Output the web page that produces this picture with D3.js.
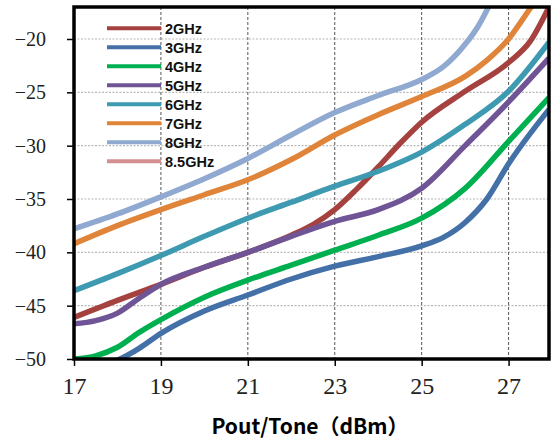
<!DOCTYPE html>
<html>
<head>
<meta charset="utf-8">
<script src="https://cdn.jsdelivr.net/npm/d3@7"></script>
<style>
	body { margin: 0; background: #fff; }
	.tick text { font-family: "Liberation Serif", "Times New Roman", serif; }
</style>
</head>
<body>
<script>
"use strict";

//series names and colours
const names = ["2GHz", "3GHz", "4GHz", "5GHz", "6GHz", "7GHz", "8GHz", "8.5GHz"];
const colors = ["#a5423f", "#4470a8", "#00b050", "#6f5595", "#3e9ab0", "#e0843a", "#8fa9d1", "#d49090"];

//x values (Pout/Tone, dBm) and y values per series
const x2 = [17, 18, 19, 20, 21, 22, 22.5, 23, 23.5, 24, 24.5, 25, 26, 27, 27.5, 27.93];
const y2 = [-46.1, -44.5, -43.0, -41.4, -40.0, -38.4, -37.4, -36.0, -34.1, -32.0, -29.8, -27.8, -24.9, -22.2, -20.2, -17.0];
const x3 = [17, 17.5, 18, 18.5, 19, 20, 21, 22, 23, 24, 25, 25.5, 26, 26.5, 27, 27.93];
const y3 = [-51.5, -50.6, -50.1, -49.0, -47.6, -45.5, -44.0, -42.5, -41.3, -40.4, -39.4, -38.6, -37.2, -35.0, -31.7, -26.6];
const x4 = [17, 17.5, 18, 18.5, 19, 20, 21, 22, 23, 24, 25, 26, 27, 27.93];
const y4 = [-50.0, -49.7, -48.9, -47.5, -46.3, -44.2, -42.6, -41.2, -39.8, -38.4, -36.8, -34.0, -29.6, -25.5];
const x5 = [17, 17.5, 18, 18.5, 19, 20, 21, 22, 23, 24, 25, 26, 27, 27.93];
const y5 = [-46.7, -46.4, -45.7, -44.3, -43.0, -41.4, -40.0, -38.5, -37.1, -36.0, -34.0, -30.0, -25.9, -21.8];
const x6 = [17, 18, 19, 20, 21, 22, 23, 24, 25, 26, 27, 27.93];
const y6 = [-43.6, -42.0, -40.3, -38.5, -36.8, -35.3, -33.8, -32.4, -30.6, -28.0, -24.9, -20.3];
const x7 = [17, 18, 19, 20, 21, 22, 23, 24, 25, 26, 26.5, 27, 27.3, 27.6];
const y7 = [-39.2, -37.5, -36.0, -34.6, -33.2, -31.3, -29.0, -27.1, -25.4, -23.5, -22.0, -20.0, -18.3, -16.5];
const x8 = [17, 18, 19, 20, 21, 22, 23, 24, 25, 25.5, 26, 26.3, 26.6];
const y8 = [-37.8, -36.4, -34.8, -33.1, -31.2, -29.0, -26.9, -25.3, -23.8, -22.6, -20.5, -18.8, -16.5];
const x85 = [];
const y85 = [];

const xTicks = [17, 19, 21, 23, 25, 27];
const yTicks = [-50, -45, -40, -35, -30, -25, -20];
const xTitle = "Pout/Tone（dBm）";

const series = [[x2, y2], [x3, y3], [x4, y4], [x5, y5], [x6, y6], [x7, y7], [x8, y8], [x85, y85]];

//plot box
const W = 552, H = 442;
const pLeft = 74, pTop = 7, pRight = 549, pBottom = 359;

const x = d3.scaleLinear().domain([17, 27.93]).range([pLeft, pRight]);
const y = d3.scaleLinear().domain([-50, -17]).range([pBottom, pTop]);

const svg = d3.select("body").append("svg")
	.attr("width", W)
	.attr("height", H);
svg.append("rect").attr("width", W).attr("height", H).attr("fill", "#fff");

svg.append("clipPath").attr("id", "clip")
	.append("rect")
	.attr("x", pLeft).attr("y", pTop)
	.attr("width", pRight - pLeft).attr("height", pBottom - pTop);

//grid
svg.append("g")
	.selectAll("line")
	.data(yTicks.slice(1))
	.join("line")
	.attr("x1", pLeft).attr("x2", pRight)
	.attr("y1", d => y(d)).attr("y2", d => y(d))
	.attr("stroke", "#b8b8b8")
	.attr("stroke-width", 1.2)
	.attr("stroke-dasharray", "2,1.5");
svg.append("g")
	.selectAll("line")
	.data(xTicks.slice(1))
	.join("line")
	.attr("x1", d => x(d)).attr("x2", d => x(d))
	.attr("y1", pTop).attr("y2", pBottom)
	.attr("stroke", "#555")
	.attr("stroke-width", 1)
	.attr("stroke-dasharray", "3,2");

//curves
const line = d3.line()
	.x(d => x(d[0]))
	.y(d => y(d[1]))
	.curve(d3.curveMonotoneX);

const curves = svg.append("g").attr("clip-path", "url(#clip)");
series.forEach(function(s, i)
{
	if (!s[0].length) return;
	curves.append("path")
		.attr("d", line(s[0].map((v, k) => [v, s[1][k]])))
		.attr("fill", "none")
		.attr("stroke", colors[i])
		.attr("stroke-width", 5.5)
		.attr("stroke-linecap", "butt")
		.attr("stroke-linejoin", "round");
});

//axes
const xAxis = svg.append("g")
	.attr("transform", "translate(0," + pBottom + ")")
	.call(d3.axisBottom(x).tickValues(xTicks).tickSize(7).tickPadding(11).tickFormat(d3.format("d")));
const yAxis = svg.append("g")
	.attr("transform", "translate(" + pLeft + ",0)")
	.call(d3.axisLeft(y).tickValues(yTicks).tickSize(7).tickPadding(21).tickFormat(d3.format("d")));
[xAxis, yAxis].forEach(function(a)
{
	a.attr("font-family", null);
	a.select(".domain").remove();
	a.selectAll(".tick line").attr("stroke", "#000").attr("stroke-width", 1.5);
	a.selectAll("text").attr("fill", "#222");
});
xAxis.selectAll("text").attr("font-size", 24);
yAxis.selectAll("text").attr("font-size", 20);

//frame
svg.append("rect")
	.attr("x", pLeft).attr("y", pTop)
	.attr("width", pRight - pLeft).attr("height", pBottom - pTop)
	.attr("fill", "none")
	.attr("stroke", "#000")
	.attr("stroke-width", 3.5);

//legend
const legend = svg.append("g");
names.forEach(function(n, i)
{
	let ly = 28.3 + i * 19;
	legend.append("line")
		.attr("x1", 107).attr("x2", 161)
		.attr("y1", ly).attr("y2", ly)
		.attr("stroke", colors[i])
		.attr("stroke-width", 4);
	legend.append("text")
		.attr("x", 165).attr("y", ly + 5.5)
		.style("font-family", "'Liberation Sans', Arial, sans-serif")
		.attr("font-weight", "bold")
		.attr("font-size", 14.5)
		.attr("fill", "#111")
		.text(n);
});

//x title
svg.append("text")
	.attr("x", 310).attr("y", 434)
	.attr("text-anchor", "middle")
	.style("font-family", "'Noto Sans CJK SC', sans-serif")
	.attr("font-weight", "bold")
	.attr("font-size", 21)
	.attr("fill", "#000")
	.text(xTitle);
</script>
</body>
</html>
